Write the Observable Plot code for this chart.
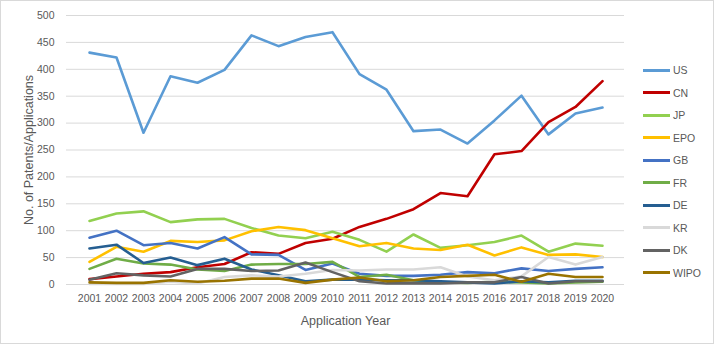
<!DOCTYPE html>
<html>
<head>
<meta charset="utf-8">
<script src="https://cdn.jsdelivr.net/npm/d3@7"></script>
<script src="https://cdn.jsdelivr.net/npm/@observablehq/plot@0.6"></script>
<style>
  html, body { margin: 0; padding: 0; background: #fff; }
  #wrap { position: relative; width: 714px; height: 344px; overflow: hidden; font-family: "Liberation Sans", Arial, sans-serif; }
  #wrap::after { content: ""; position: absolute; inset: 0; border: 1px solid #D9D9D9; pointer-events: none; }
  #legend { position: absolute; left: 643px; top: 59px; }
  .item { height: 22.5px; display: flex; align-items: center; font-size: 10.5px; color: #595959; }
  .sw { width: 27px; height: 3px; margin-right: 3px; }
</style>
</head>
<body>
<div id="wrap"><div id="chart"></div><div id="legend"></div></div>
<script>
const years = [2001,2002,2003,2004,2005,2006,2007,2008,2009,2010,2011,2012,2013,2014,2015,2016,2017,2018,2019,2020];
const US   = [431,422,282,387,375,399,463,443,460,469,391,362,285,288,262,305,351,279,318,329];
const CN   = [10,15,20,23,32,38,60,57,77,85,107,122,140,170,164,242,248,302,330,378];
const JP   = [118,132,136,116,121,122,105,91,86,98,83,61,93,68,73,79,91,61,76,72];
const EPO  = [42,70,61,81,79,82,99,107,101,86,71,77,67,64,74,54,69,55,56,51];
const GB   = [87,100,73,77,67,88,56,55,27,39,20,16,16,18,23,21,30,25,29,32];
const FR   = [29,48,39,37,28,25,37,38,38,42,14,18,8,4,3,5,4,2,4,5];
const DE   = [67,74,40,50,36,48,28,17,6,9,9,8,8,6,4,2,6,4,7,7];
const KR   = [1,1,1,5,2,14,17,15,20,27,26,28,28,32,15,8,15,51,37,51];
const DK   = [9,21,17,15,29,29,25,26,41,23,6,2,2,2,4,4,14,2,6,6];
const WIPO = [4,3,3,8,5,7,11,11,3,9,13,6,8,14,16,18,5,20,14,14];

const seriesNames = ["US","CN","JP","EPO","GB","FR","DE","KR","DK","WIPO"];
const seriesValues = [US,CN,JP,EPO,GB,FR,DE,KR,DK,WIPO];
const seriesColors = ["#5B9BD5","#C00000","#92D050","#FFC000","#4472C4","#70AD47","#255E91","#D9D9D9","#636363","#997300"];
const yTicks = [0,50,100,150,200,250,300,350,400,450,500];
const xTitle = "Application Year";
const yTitle = "No. of Patents/Applications";

const data = seriesNames.flatMap((name, s) => seriesValues[s].map((v, i) => ({name, year: years[i], value: v})));

const chart = Plot.plot({
  width: 714,
  height: 344,
  marginLeft: 66,
  marginRight: 90,
  marginTop: 15,
  marginBottom: 60,
  style: {fontFamily: '"Liberation Sans", Arial, sans-serif', fontSize: "10.5px", color: "#595959", background: "transparent"},
  x: {type: "point", domain: years, padding: 0.5},
  y: {domain: [0, 500]},
  color: {domain: seriesNames, range: seriesColors},
  marks: [
    Plot.gridY(yTicks, {stroke: "#D9D9D9", strokeOpacity: 1, strokeWidth: 1}),
    Plot.axisY(yTicks, {tickSize: 0, tickPadding: 12, label: null, fill: "#595959"}),
    Plot.axisX(years, {tickSize: 0, tickPadding: 10, label: null, tickFormat: d => String(d), fill: "#595959"}),
    Plot.lineY(data, {x: "year", y: "value", z: "name", stroke: "name", strokeWidth: 2.6, strokeLinejoin: "round", strokeLinecap: "round"}),
    Plot.text([xTitle], {frameAnchor: "bottom", dy: 36, text: d => d, fontSize: 12.5, fill: "#595959", textAnchor: "middle", lineAnchor: "middle"}),
    Plot.text([yTitle], {frameAnchor: "left", dx: -38, rotate: -90, text: d => d, fontSize: 12.5, fill: "#595959", textAnchor: "middle", lineAnchor: "middle"})
  ]
});
document.getElementById("chart").appendChild(chart);

const legend = document.getElementById("legend");
seriesNames.forEach((name, i) => {
  const item = document.createElement("div");
  item.className = "item";
  const sw = document.createElement("div");
  sw.className = "sw";
  sw.style.background = seriesColors[i];
  const label = document.createElement("span");
  label.textContent = name;
  item.appendChild(sw);
  item.appendChild(label);
  legend.appendChild(item);
});
</script>
</body>
</html>
